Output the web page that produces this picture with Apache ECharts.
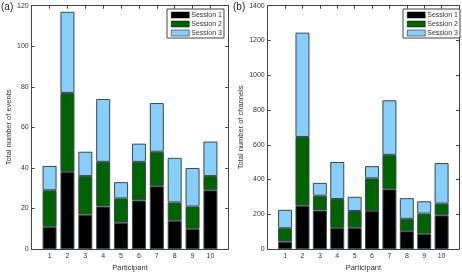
<!DOCTYPE html>
<html>
<head>
<meta charset="utf-8">
<script src="https://cdn.jsdelivr.net/npm/echarts@6/dist/echarts.min.js"></script>
<style>
html,body{margin:0;padding:0;background:#fff;}
#c{width:462px;height:277px;}
</style>
</head>
<body>
<div id="c"></div>
<script>
// Data
var participants = ['1', '2', '3', '4', '5', '6', '7', '8', '9', '10'];
var sessionNames = ['Session 1', 'Session 2', 'Session 3'];
// (a) number of events per session
var eventsS1 = [11, 38, 17, 21, 13, 24, 31, 14, 10, 29];
var eventsS2 = [18, 39, 19, 22, 12, 19, 17, 9, 11, 7];
var eventsS3 = [12, 40, 12, 31, 8, 9, 24, 22, 19, 17];
// (b) number of channels per session
var chanS1 = [43, 250, 222, 121, 123, 219, 344, 103, 88, 194];
var chanS2 = [77, 395, 85, 167, 96, 188, 198, 71, 116, 68];
var chanS3 = [106, 600, 74, 213, 82, 70, 314, 119, 71, 233];
var eventsTicks = [0, 20, 40, 60, 80, 100, 120];
var chanTicks = [0, 200, 400, 600, 800, 1000, 1200, 1400];

var colors = ['#000000', '#006400', '#87cefa'];
var FONT = 'Liberation Sans, Arial, sans-serif';
var TXT = '#333';
var LINE = '#444';

// axis runs from 0 to 11 like the original: pad with empty slots at both ends
var cats = [''].concat(participants, ['']);
function padded(vals) { return [null].concat(vals, [null]); }

function xAx(gi, pos) {
  var bottom = pos === 'bottom';
  return {
    type: 'category', gridIndex: gi, position: pos, data: cats, boundaryGap: false,
    axisLine: { show: true, onZero: false, lineStyle: { color: LINE, width: 1 } },
    axisTick: { show: true, inside: true, length: 3, interval: 0, lineStyle: { color: LINE } },
    axisLabel: { show: bottom, fontSize: 7, color: TXT, fontFamily: FONT, margin: 3, interval: 0 },
    splitLine: { show: false },
    name: bottom ? 'Participant' : '', nameLocation: 'middle', nameGap: 14,
    nameTextStyle: { fontSize: 7.5, color: TXT, fontFamily: FONT }
  };
}
function yAx(gi, pos, ticks, title, gap) {
  var left = pos === 'left';
  return {
    type: 'value', gridIndex: gi, position: pos, min: ticks[0], max: ticks[ticks.length - 1],
    interval: ticks[1] - ticks[0],
    axisLine: { show: true, onZero: false, lineStyle: { color: LINE, width: 1 } },
    axisTick: { show: true, inside: true, length: 3, lineStyle: { color: LINE } },
    axisLabel: { show: left, fontSize: 7, color: TXT, fontFamily: FONT, margin: 3,
      formatter: function (v) { return String(v); } },
    splitLine: { show: false },
    name: left ? title : '', nameLocation: 'middle', nameGap: gap || 0,
    nameTextStyle: { fontSize: 7.5, color: TXT, fontFamily: FONT }
  };
}

var series = [];
var evSets = [eventsS1, eventsS2, eventsS3];
var chSets = [chanS1, chanS2, chanS3];
for (var k = 0; k < 3; k++) {
  series.push({
    name: sessionNames[k], type: 'bar', xAxisIndex: 0, yAxisIndex: 0, stack: 'a',
    barWidth: 14, data: padded(evSets[k]),
    itemStyle: { color: colors[k], borderColor: '#3a4650', borderWidth: 1 },
    emphasis: { disabled: true }
  });
}
for (var k2 = 0; k2 < 3; k2++) {
  series.push({
    name: sessionNames[k2], type: 'bar', xAxisIndex: 2, yAxisIndex: 2, stack: 'b',
    barWidth: 14, data: padded(chSets[k2]),
    itemStyle: { color: colors[k2], borderColor: '#3a4650', borderWidth: 1 },
    emphasis: { disabled: true }
  });
}

function legend(left) {
  return {
    data: sessionNames, left: left, top: 9, orient: 'vertical',
    backgroundColor: '#fff', borderColor: LINE, borderWidth: 1,
    padding: [2, 2, 1, 4], itemGap: 1, itemWidth: 18, itemHeight: 6,
    icon: 'rect', selectedMode: false,
    itemStyle: { borderColor: '#000', borderWidth: 0.5 },
    textStyle: { fontSize: 7, color: TXT, fontFamily: FONT, lineHeight: 8, padding: [0, 0, 0, -3] }
  };
}

var chart = echarts.init(document.getElementById('c'), null, { renderer: 'canvas' });
chart.setOption({
  animation: false,
  backgroundColor: '#fff',
  grid: [
    { left: 31.7, top: 5.7, width: 196.6, height: 250 },
    { left: 267.7, top: 5.7, width: 192.6, height: 250 }
  ],
  xAxis: [xAx(0, 'bottom'), xAx(0, 'top'), xAx(1, 'bottom'), xAx(1, 'top')],
  yAxis: [yAx(0, 'left', eventsTicks, 'Total number of events', 11), yAx(0, 'right', eventsTicks, ''),
          yAx(1, 'left', chanTicks, 'Total number of channels', 16), yAx(1, 'right', chanTicks, '')],
  legend: [legend(167), legend(403)],
  series: series,
  graphic: [
    { type: 'text', left: 1, top: 2, style: { text: '(a)', fill: '#222', font: '10px ' + FONT } },
    { type: 'text', left: 233, top: 2, style: { text: '(b)', fill: '#222', font: '10px ' + FONT } }
  ]
});
</script>
</body>
</html>
